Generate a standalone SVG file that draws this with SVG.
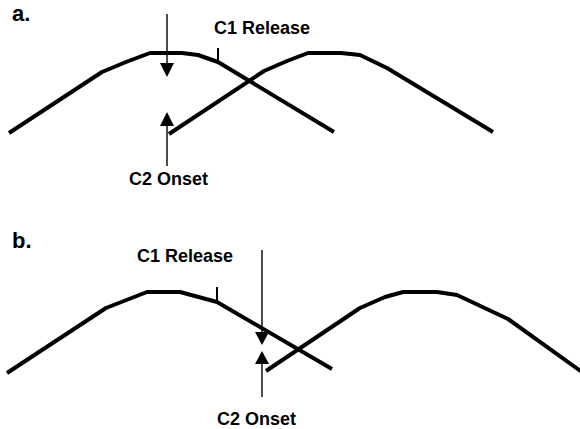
<svg xmlns="http://www.w3.org/2000/svg" width="580" height="429" viewBox="0 0 580 429">
<defs>
<style>
.curve{fill:none;stroke:#000;stroke-width:4;stroke-linejoin:round}
.tick{stroke:#000;stroke-width:2}
.arr{stroke:#000;stroke-width:1.4}
.head{fill:#000}
.lbl{font-family:"Liberation Sans",Arial,sans-serif;font-weight:bold;font-size:18px;fill:#000}
.panel{font-family:"Liberation Sans",Arial,sans-serif;font-weight:bold;font-size:22px;fill:#000}
</style>
</defs>
<rect width="580" height="429" fill="#fff"/>
<g id="panel-a">
<text class="panel" x="12" y="21">a.</text>
<g id="a-c1">
<polyline class="curve" points="9,133 102,72 126,62 150,53 182,53 198,55 218,62 334,132"/>
<line class="tick" x1="218" y1="48" x2="218" y2="62"/>
<text class="lbl" x="214" y="34">C1 Release</text>
</g>
<g id="a-c2">
<polyline class="curve" points="169,134 264,71 287,61 308,53 341,53 360,55 387,68 493,132"/>
<text class="lbl" x="129" y="185">C2 Onset</text>
</g>
</g>
<g id="panel-b">
<text class="panel" x="12" y="248">b.</text>
<g id="b-c1">
<polyline class="curve" points="7,373 106,308 147,292 180,292 217,302 332,369"/>
<line class="tick" x1="217" y1="287" x2="217" y2="302"/>
<text class="lbl" x="137" y="262">C1 Release</text>
</g>
<g id="b-c2">
<polyline class="curve" points="266,371 360,308 385,297 403,292 437,292 457,295 508,319 600,385"/>
<text class="lbl" x="217" y="425">C2 Onset</text>
</g>
</g>
<g id="connectors">
<line class="arr" x1="167" y1="14" x2="167" y2="64"/>
<polygon class="head" points="160,63 174,63 167,77"/>
<line class="arr" x1="167" y1="125" x2="167" y2="166"/>
<polygon class="head" points="160,126 174,126 167,112"/>
<line class="arr" x1="262" y1="250" x2="262" y2="333"/>
<polygon class="head" points="255,332 269,332 262,345"/>
<line class="arr" x1="262" y1="363" x2="262" y2="397"/>
<polygon class="head" points="255,364 269,364 262,351"/>
</g>
</svg>
